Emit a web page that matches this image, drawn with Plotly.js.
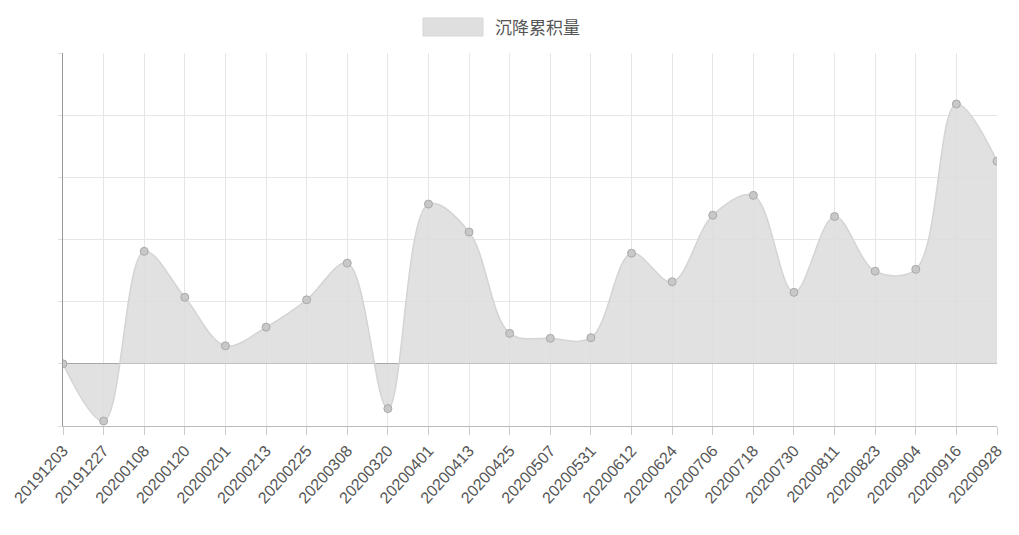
<!DOCTYPE html>
<html>
<head>
<meta charset="utf-8">
<script src="https://cdn.plot.ly/plotly-3.0.1.min.js"></script>
<style>html,body{margin:0;padding:0;background:#fff;}#chart{width:1019px;height:535px;}</style>
</head>
<body>
<div id="chart"></div>
<script>
const categories = ["20191203","20191227","20200108","20200120","20200201","20200213","20200225","20200308","20200320","20200401","20200413","20200425","20200507","20200531","20200612","20200624","20200706","20200718","20200730","20200811","20200823","20200904","20200916","20200928"];
const settlement = [0, -0.92, 1.81, 1.07, 0.29, 0.59, 1.03, 1.62, -0.72, 2.57, 2.12, 0.49, 0.41, 0.42, 1.78, 1.32, 2.39, 2.71, 1.15, 2.37, 1.49, 1.52, 4.18, 3.26];
const seriesName = "沉降累积量";

const idx = categories.map((c, i) => i);

const trace = {
  x: idx,
  y: settlement,
  type: "scatter",
  mode: "lines+markers",
  name: seriesName,
  fill: "tozeroy",
  fillcolor: "rgba(220,220,220,0.85)",
  line: {shape: "spline", smoothing: 1, color: "rgba(212,212,212,1)", width: 1.5},
  marker: {size: 8, color: "rgba(200,200,200,1)", line: {color: "rgba(170,170,170,1)", width: 1}},
  showlegend: false,
  hoverinfo: "x+y"
};

const layout = {
  width: 1019, height: 535,
  margin: {l: 63, r: 22, t: 53, b: 109},
  paper_bgcolor: "#fff", plot_bgcolor: "#fff",
  font: {family: "Liberation Sans, Arial, sans-serif", color: "#555", size: 12},
  xaxis: {
    range: [0, 23],
    tickmode: "array", tickvals: idx, ticktext: categories,
    tickangle: -48,
    showgrid: true, gridcolor: "#e6e6e6", gridwidth: 1,
    zeroline: false,
    showline: true, linecolor: "#bbb", linewidth: 1,
    ticks: "outside", ticklen: 8, tickcolor: "#ccc",
    tickfont: {size: 16, color: "#555"},
    fixedrange: true
  },
  yaxis: {
    range: [-1, 5], dtick: 1, tick0: 0,
    showticklabels: false,
    showgrid: true, gridcolor: "#e6e6e6", gridwidth: 1,
    zeroline: true, zerolinecolor: "#999", zerolinewidth: 1,
    showline: true, linecolor: "#999", linewidth: 1,
    ticks: "outside", ticklen: 4, tickcolor: "#ddd",
    fixedrange: true
  },
  shapes: [{
    type: "rect", xref: "paper", yref: "paper",
    x0: (423 - 63) / 934, x1: (483 - 63) / 934,
    y0: 1 + (53 - 36) / 373, y1: 1 + (53 - 18) / 373,
    fillcolor: "rgba(220,220,220,0.9)", line: {color: "rgba(215,215,215,1)", width: 1}
  }],
  annotations: [{
    text: seriesName, xref: "paper", yref: "paper",
    x: (493 - 63) / 934, y: 1 + (53 - 27) / 373,
    xanchor: "left", yanchor: "middle", showarrow: false,
    font: {family: "Noto Sans CJK SC, sans-serif", size: 17, color: "#555"}
  }]
};

Plotly.newPlot("chart", [trace], layout, {displayModeBar: false, staticPlot: true});
</script>
</body>
</html>
